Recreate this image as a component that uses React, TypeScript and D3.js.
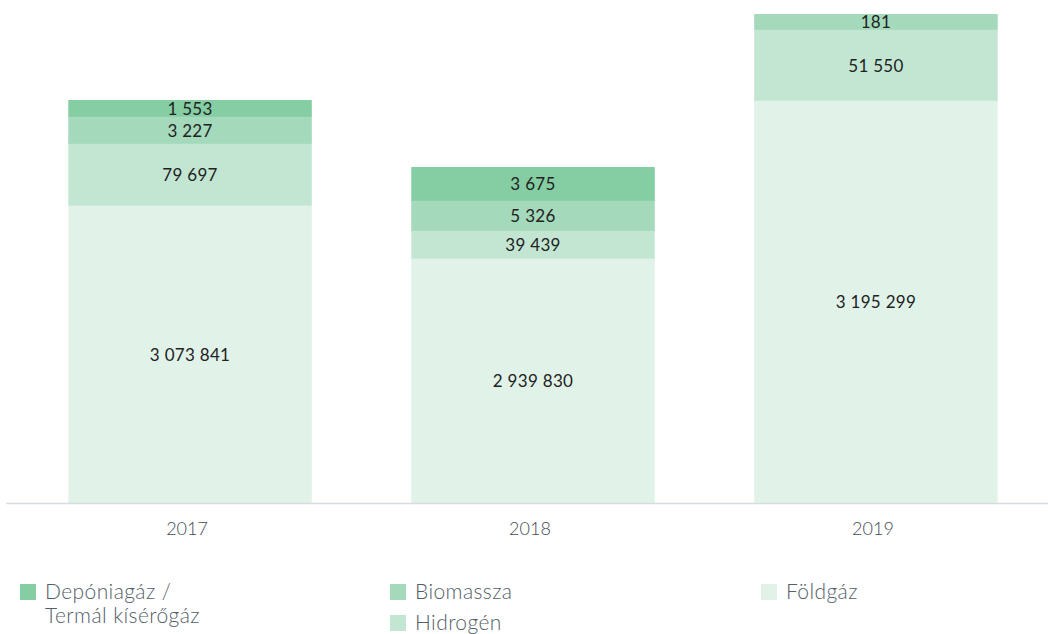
import React from "react";
import * as d3 from "d3";

const years = ["2017", "2018", "2019"];
const seriesNames = ["Földgáz", "Hidrogén", "Biomassza", "Depóniagáz / Termál kísérőgáz"];
// Values printed on each segment (null = no segment)
const foldgaz = [3073841, 2939830, 3195299];
const hidrogen = [79697, 39439, 51550];
const biomassza = [3227, 5326, 181];
const deponia = [1553, 3675, null];
// The reference draws segments at illustrative (non-proportional) sizes
const foldgazShown = [297, 244, 402];
const hidrogenShown = [62, 28, 71];
const biomasszaShown = [27, 30, 16];
const deponiaShown = [17, 34, 0];

const colors = ["#e1f2e9", "#c3e6d3", "#a4d9bb", "#85cea3"];
const edgeColors = ["#cde9da", "#a9dcc0", "#8fd0ab", "#6fc391"];

const W = 1048;
const H = 634;

function fmt(v: number) {
  return d3.format(",")(v).replace(/,/g, " ");
}

export default function App() {
  const x = d3.scaleBand().domain(years).range([22, 1044]).paddingInner(0.29).paddingOuter(0.135);
  const y = d3.scaleLinear().domain([0, 500]).range([503, 3]);

  const values = [foldgaz, hidrogen, biomassza, deponia];
  const shown = [foldgazShown, hidrogenShown, biomasszaShown, deponiaShown];
  const stackData = years.map((yr, i) => {
    const o: any = { year: yr };
    shown.forEach((s, k) => (o["s" + k] = s[i]));
    return o;
  });
  const stack = d3.stack<any>().keys(["s0", "s1", "s2", "s3"])(stackData);

  const font = "Lato, 'Open Sans', sans-serif";

  const legend = [
    { k: 3, x: 20, y: 584, lines: ["Depóniagáz /", "Termál kísérőgáz"] },
    { k: 2, x: 390, y: 584, lines: ["Biomassza"] },
    { k: 1, x: 390, y: 615, lines: ["Hidrogén"] },
    { k: 0, x: 761, y: 584, lines: ["Földgáz"] },
  ];

  return (
    <svg width={W} height={H} style={{ position: "absolute", left: 0, top: 0 }} fontFamily={font}>
      <rect width={W} height={H} fill="#ffffff" />
      {stack.map((layer, k) => (
        <g key={k}>
          {layer.map((d, i) => {
            const v = values[k][i];
            if (v === null || d[1] - d[0] <= 0) return null;
            const x0 = x(years[i])!;
            const bw = x.bandwidth();
            const yTop = y(d[1]);
            const yBot = y(d[0]);
            return (
              <g key={i}>
                <rect x={x0} y={yTop} width={bw} height={yBot - yTop} fill={colors[k]} />
                {k > 0 && <line x1={x0} x2={x0 + bw} y1={yBot - 0.5} y2={yBot - 0.5} stroke={edgeColors[k - 1]} strokeWidth={1} />}
                <text
                  x={x0 + bw / 2}
                  y={(yTop + yBot) / 2}
                  dy="0.38em"
                  textAnchor="middle"
                  fontSize={17}
                  fontWeight={400}
                  letterSpacing={0.3}
                  fill="#222222"
                >
                  {fmt(v)}
                </text>
              </g>
            );
          })}
        </g>
      ))}
      <line x1={6} x2={W} y1={503.5} y2={503.5} stroke="#d6dcdf" strokeWidth={1.5} />
      {years.map((yr) => (
        <text key={yr} x={x(yr)! + x.bandwidth() / 2 - 3} y={535} textAnchor="middle" fontSize={18} fontWeight={300} fill="#3f4a54">
          {yr}
        </text>
      ))}
      {legend.map((l) => (
        <g key={l.k}>
          <rect x={l.x} y={l.y} width={16} height={16} fill={colors[l.k]} />
          {l.lines.map((t, j) => (
            <text key={j} x={l.x + 25} y={l.y + 15 + j * 24} fontSize={21} fontWeight={300} letterSpacing={0.4} fill="#525e68">
              {t}
            </text>
          ))}
        </g>
      ))}
    </svg>
  );
}
